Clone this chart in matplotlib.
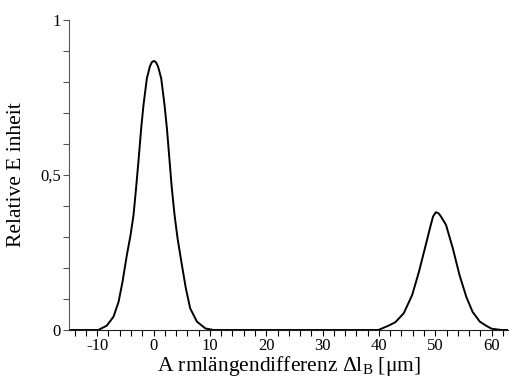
import matplotlib
matplotlib.use("Agg")
import matplotlib.pyplot as plt
from matplotlib.ticker import MultipleLocator, FixedLocator

plt.rcParams['font.family'] = ['Liberation Serif', 'DejaVu Serif']
plt.rcParams['mathtext.fontset'] = 'custom'
plt.rcParams['mathtext.rm'] = 'Liberation Serif'
plt.rcParams['mathtext.it'] = 'Liberation Serif:italic'
plt.rcParams['axes.unicode_minus'] = False

# Curve (arm length difference in µm, relative unit)
x_vals = [-15.0, -9.8, -8.3, -7.1, -6.2, -5.5, -4.73, -4.08, -3.55, -3.15,
          -2.62, -2.19, -1.78, -1.18, -0.65, -0.3, 0.06, 0.42, 0.8, 1.36, 1.95,
          2.37, 2.8, 3.22, 3.73, 4.26, 5.03, 5.74, 6.5, 7.7, 9.2, 10.65,
          39.9, 41.7, 42.9, 44.4, 45.9, 47.1, 48.3, 49.2, 49.6, 50.1, 50.6, 51.0,
          51.9, 53.1, 54.3, 55.5, 56.6, 57.9, 59.0, 60.0, 61.8, 62.9]
y_vals = [0.0, 0.0, 0.014, 0.043, 0.091, 0.156, 0.242, 0.306, 0.371, 0.447,
          0.556, 0.651, 0.726, 0.812, 0.850, 0.864, 0.868, 0.864, 0.850, 0.812,
          0.726, 0.651, 0.556, 0.462, 0.371, 0.296, 0.21, 0.134, 0.07, 0.027,
          0.005, 0.0,
          0.0, 0.014, 0.025, 0.054, 0.113, 0.188, 0.274, 0.339, 0.366, 0.38,
          0.376, 0.366, 0.339, 0.264, 0.177, 0.107, 0.059, 0.027, 0.014, 0.004,
          0.0, 0.0]

x_major = [-10, 0, 10, 20, 30, 40, 50, 60]
y_major = [0, 0.5, 1]
y_labels = ['0', '0,5', '1']

W, H = 509, 383
fig = plt.figure(figsize=(W / 100, H / 100), dpi=100)
ax = fig.add_axes([69 / W, (H - 330) / H, (508 - 69) / W, (330 - 20) / H])

ax.plot(x_vals, y_vals, color='black', lw=1.4, solid_joinstyle='round')

ax.set_xlim(-15, 62.9)
ax.set_ylim(0, 1)
ax.spines['top'].set_visible(False)
ax.spines['right'].set_visible(False)
ax.spines['left'].set_color('#555555')
ax.spines['bottom'].set_color('#222222')

ax.xaxis.set_major_locator(FixedLocator(x_major))
ax.xaxis.set_minor_locator(MultipleLocator(2))
ax.yaxis.set_major_locator(FixedLocator(y_major))
ax.set_yticklabels(y_labels)
ax.yaxis.set_minor_locator(MultipleLocator(0.1))
ax.tick_params(axis='both', which='both', direction='out', length=4, width=0.8,
               labelsize=12, pad=2)
ax.tick_params(axis='y', which='both', color='#555555')

ax.set_xlabel('A rmlängendifferenz $\\Delta$l$_{\\mathrm{B}}$ [μm]', fontsize=15.5, labelpad=0)
ax.set_ylabel('Relative E inheit', fontsize=15.5, labelpad=10)

fig.savefig('out.png', dpi=100)
